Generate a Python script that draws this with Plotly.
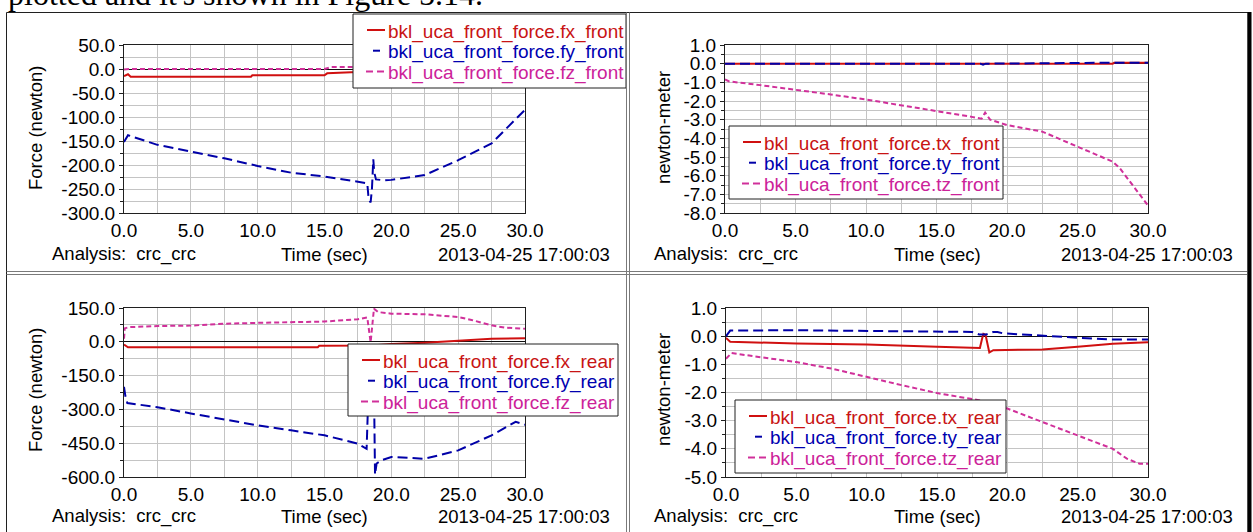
import plotly.graph_objects as go

W, H = 1253, 532

# ---------------- data ----------------
# Panel 1: front forces (newton)
t_fx_front = [0, 0.3, 0.5, 9.5, 9.6, 15.0, 15.2, 17.0, 30.0]
fx_front = [-15, -11, -16, -16, -13, -13, -9, -7, -6]
t_fy_front = [0, 0.3, 2.5, 5, 7.5, 10, 12.5, 15, 17.5, 18.2, 18.3, 18.45, 18.55, 18.65, 18.72,
              18.85, 19.5, 20, 22.5, 25, 27.5, 30]
fy_front = [-152, -138, -158, -172, -186, -202, -216, -224, -235, -238, -270, -278, -250, -188,
            -215, -230, -232, -231, -221, -190, -155, -85]
t_fz_front = [0, 0.5, 15.0, 15.5, 30.0]
fz_front = [-1, 0, 0, 4, 4]

# Panel 2: front torques (newton-meter)
t_tx_front = [0, 27.5, 27.6, 30]
tx_front = [0, 0, 0.05, 0.05]
t_ty_front = [0, 18.1, 18.3, 18.5, 27.5, 30]
ty_front = [0, 0, -0.06, 0, 0.05, 0.05]
t_tz_front = [0, 0.3, 2.5, 5, 7.5, 10, 12.5, 15, 17.5, 18.2, 18.45, 18.8, 20, 22.5, 25, 27.5,
              28.0, 28.5, 29.3, 30]
tz_front = [-0.85, -0.95, -1.15, -1.38, -1.65, -1.92, -2.22, -2.55, -2.85, -2.95, -2.62, -3.0,
            -3.29, -3.64, -4.45, -5.25, -5.6, -6.1, -6.9, -7.6]

# Panel 3: rear forces (newton)
t_fx_rear = [0, 0.3, 14.5, 14.6, 18.5, 20, 22.5, 25, 27.5, 30]
fx_rear = [-12, -24, -24, -18, -16, -10, -4, 6, 13, 16]
t_fy_rear = [0, 0.1, 0.25, 2.5, 5, 7.5, 10, 12.5, 15, 17.5, 18.15, 18.3, 18.7, 18.78, 18.9,
             19.3, 20, 22.5, 25, 27.5, 29.3, 30]
fy_rear = [-200, -240, -272, -290, -318, -345, -371, -393, -415, -452, -475, -200, -200, -590,
           -540, -525, -511, -519, -482, -415, -355, -368]
t_fz_rear = [0, 0.06, 0.4, 2.5, 5, 7.5, 10, 12.5, 15, 17.5, 18.2, 18.45, 18.7, 19, 20, 22.5,
             25, 26, 27.5, 28.5, 30]
fz_rear = [14, 60, 65, 70, 72, 80, 84, 88, 90, 100, 108, -2, 147, 132, 125, 122, 110, 97, 73,
           63, 58]

# Panel 4: rear torques (newton-meter)
t_tx_rear = [0, 0.3, 5, 10, 15, 17.5, 18.05, 18.2, 18.3, 18.45, 18.6, 18.72, 19, 20, 22.5, 25,
             27.5, 30]
tx_rear = [-0.06, -0.2, -0.26, -0.3, -0.38, -0.42, -0.42, -0.1, 0.08, 0.05, -0.3, -0.58, -0.5,
           -0.49, -0.47, -0.38, -0.27, -0.22]
t_ty_rear = [0, 0.3, 5, 10, 15, 17.5, 18.0, 18.5, 19.0, 19.3, 19.7, 22.3, 24.9, 27.3, 30]
ty_rear = [0.0, 0.2, 0.21, 0.19, 0.16, 0.15, 0.06, 0.06, 0.15, 0.15, 0.1, 0.02, -0.07, -0.12,
           -0.12]
t_tz_rear = [0, 0.4, 2.5, 5, 7.5, 10, 12.5, 15, 17.5, 18.5, 19, 20, 22.5, 25, 27.5, 28.5, 29.4, 30]
tz_rear = [-0.8, -0.6, -0.75, -0.92, -1.15, -1.45, -1.74, -2.02, -2.22, -2.32, -2.46, -2.57,
           -3.05, -3.52, -4.0, -4.35, -4.53, -4.53]

x_ticks = [0, 5, 10, 15, 20, 25, 30]
y_ticks = [
    [50, 0, -50, -100, -150, -200, -250, -300],
    [1, 0, -1, -2, -3, -4, -5, -6, -7, -8],
    [150, 0, -150, -300, -450, -600],
    [1, 0, -1, -2, -3, -4, -5],
]
y_ranges = [[-300, 50], [-8, 1], [-600, 150], [-5, 1]]
y_titles = ["Force (newton)", "newton-meter", "Force (newton)", "newton-meter"]
legend_labels = [
    ["bkl_uca_front_force.fx_front", "bkl_uca_front_force.fy_front", "bkl_uca_front_force.fz_front"],
    ["bkl_uca_front_force.tx_front", "bkl_uca_front_force.ty_front", "bkl_uca_front_force.tz_front"],
    ["bkl_uca_front_force.fx_rear", "bkl_uca_front_force.fy_rear", "bkl_uca_front_force.fz_rear"],
    ["bkl_uca_front_force.tx_rear", "bkl_uca_front_force.ty_rear", "bkl_uca_front_force.tz_rear"],
]

# ---------------- styling ----------------
RED = "#d01010"
BLUE = "#0000a8"
MAG = "#d0309a"
TXT_COL = ["#c81414", "#0000b0", "#cc2299"]
FONT = "Liberation Sans, Arial, sans-serif"
FS_TICK = 19
FS = 18.5

fig = go.Figure()


def px(x):
    return x / W


def py(y):
    return 1 - y / H


panel_series = [
    [(t_fx_front, fx_front), (t_fy_front, fy_front), (t_fz_front, fz_front)],
    [(t_tx_front, tx_front), (t_ty_front, ty_front), (t_tz_front, tz_front)],
    [(t_fx_rear, fx_rear), (t_fy_rear, fy_rear), (t_fz_rear, fz_rear)],
    [(t_tx_rear, tx_rear), (t_ty_rear, ty_rear), (t_tz_rear, tz_rear)],
]
styles = [(RED, "solid"), (BLUE, "10px,5px"), (MAG, "5px,3px")]

for p, ser in enumerate(panel_series):
    sfx = "" if p == 0 else str(p + 1)
    for k, (t, y) in enumerate(ser):
        col, dash = styles[k]
        fig.add_trace(go.Scatter(
            x=t, y=y, mode="lines",
            line=dict(color=col, width=2, dash=dash),
            name=legend_labels[p][k],
            xaxis="x" + sfx, yaxis="y" + sfx, showlegend=False,
            hoverinfo="x+y+name",
        ))

x_dom = [[px(124), px(525)], [px(725), px(1148)], [px(124), px(525)], [px(726), px(1148)]]
y_dom = [[py(213), py(45)], [py(213), py(45)], [py(477), py(308)], [py(477), py(308)]]

layout = dict(
    width=W, height=H,
    margin=dict(l=0, r=0, t=0, b=0, pad=0, autoexpand=False),
    paper_bgcolor="white", plot_bgcolor="white",
    font=dict(family=FONT, size=FS, color="black"),
    showlegend=False,
)

for i in range(4):
    sfx = "" if i == 0 else str(i + 1)
    layout["xaxis" + sfx] = dict(
        domain=x_dom[i], anchor="y" + sfx, range=[0, 30],
        tickmode="array", tickvals=x_ticks, ticktext=["%.1f" % v for v in x_ticks],
        showgrid=True, gridcolor="#c4c4c4", gridwidth=1,
        minor=dict(showgrid=True, dtick=2.5, tick0=0, gridcolor="#c4c4c4", gridwidth=1),
        showline=True, linecolor="#202020", linewidth=1, mirror=True,
        zeroline=False, ticks="", tickfont=dict(size=FS_TICK, color="black"),
        automargin=False, fixedrange=True,
    )
    lo, hi = y_ranges[i]
    tv = y_ticks[i]
    d = abs(tv[0] - tv[1])
    layout["yaxis" + sfx] = dict(
        domain=y_dom[i], anchor="x" + sfx, range=[lo, hi],
        tickmode="array", tickvals=tv, ticktext=["%.1f" % v for v in tv],
        showgrid=True, gridcolor="#c4c4c4", gridwidth=1,
        minor=dict(showgrid=True, dtick=d / 2, tick0=0, gridcolor="#c4c4c4", gridwidth=1,
                   ticks="outside", ticklen=3, tickcolor="#202020"),
        showline=True, linecolor="#202020", linewidth=1, mirror=True,
        zeroline=True, zerolinecolor="#101010", zerolinewidth=1,
        ticks="outside", ticklen=4, tickcolor="#202020",
        tickfont=dict(size=FS_TICK, color="black"),
        automargin=False, fixedrange=True,
    )

annotations = []
shapes = []

# text rows under each panel
for (x0, x_mid, x_end, yc) in [(50, 325, 612, 254), (652, 937, 1235, 254),
                               (50, 325, 612, 516), (652, 937, 1235, 516)]:
    for txt, xx, anc in [("Analysis:\u00a0 crc_crc", x0, "left"), ("Time (sec)", x_mid, "center"),
                         ("2013-04-25 17:00:03", x_end, "right")]:
        annotations.append(dict(text=txt, x=px(xx), xanchor=anc, y=py(yc), yanchor="middle",
                                xref="paper", yref="paper", showarrow=False,
                                font=dict(size=FS)))
# y-axis titles
for (xc, yc), ttl in zip([(35, 128), (663, 128), (35, 390), (663, 390)], y_titles):
    annotations.append(dict(text=ttl, x=px(xc), y=py(yc), xanchor="center", yanchor="middle",
                            xref="paper", yref="paper", textangle=-90, showarrow=False,
                            font=dict(size=FS)))

# legend boxes drawn as in the original tool (short samples, coloured labels)
legend_boxes = [(353, 14, 626, 88), (729, 126, 1003, 199), (348, 344, 618, 416),
                (735, 400, 1006, 473)]
row_offsets = [17.5, 38.2, 59.0]
for p, (lx0, ly0, lx1, ly1) in enumerate(legend_boxes):
    shapes.append(dict(type="rect", xref="paper", yref="paper", x0=px(lx0), x1=px(lx1),
                       y0=py(ly1), y1=py(ly0), fillcolor="white",
                       line=dict(color="#202020", width=1), layer="above"))
    for k in range(3):
        ry = ly0 + row_offsets[k]
        sy = ry - 1.5
        if k == 0:
            segs = [(14, 32)]
        elif k == 1:
            segs = [(20, 27)]
        else:
            segs = [(13, 20), (24, 31)]
        for a, b in segs:
            shapes.append(dict(type="line", xref="paper", yref="paper", x0=px(lx0 + a),
                               x1=px(lx0 + b), y0=py(sy), y1=py(sy),
                               line=dict(color=styles[k][0], width=2), layer="above"))
        annotations.append(dict(text=legend_labels[p][k], x=px(lx0 + 33), xanchor="left",
                                y=py(ry), yanchor="middle", xref="paper", yref="paper",
                                showarrow=False,
                                font=dict(size=FS_TICK, color=TXT_COL[k])))

# clipped caption line at the very top (only its lower part is on the page)
annotations.append(dict(text="plotted and it's shown in Figure 5.14.", x=px(6), xanchor="left",
                        y=py(-5.5), yanchor="middle", xref="paper", yref="paper",
                        showarrow=False,
                        font=dict(family="Liberation Serif, Times New Roman, serif", size=32)))
layout["annotations"] = annotations

# outer frame and panel separators
shapes.append(dict(type="rect", xref="paper", yref="paper", x0=px(6.5), x1=px(1248),
                   y0=py(545), y1=py(12.5), line=dict(color="#202020", width=1)))
shapes.append(dict(type="line", xref="paper", yref="paper", x0=px(1249.5), x1=px(1249.5),
                   y0=py(545), y1=py(12), line=dict(color="black", width=4)))
for xv in (626.5, 629.5):
    shapes.append(dict(type="line", xref="paper", yref="paper", x0=px(xv), x1=px(xv),
                       y0=py(545), y1=py(12.5), line=dict(color="#7a7a7a", width=1)))
for yv in (271.5, 274.5):
    shapes.append(dict(type="line", xref="paper", yref="paper", x0=px(6.5), x1=px(1247),
                       y0=py(yv), y1=py(yv), line=dict(color="#7a7a7a", width=1)))
layout["shapes"] = shapes

fig.update_layout(**layout)
fig.write_html(
    "out.html",
    config={"displayModeBar": False, "responsive": False},
    post_script="document.body.style.margin='0';document.body.style.padding='0';"
                "document.body.style.overflow='hidden';",
)
